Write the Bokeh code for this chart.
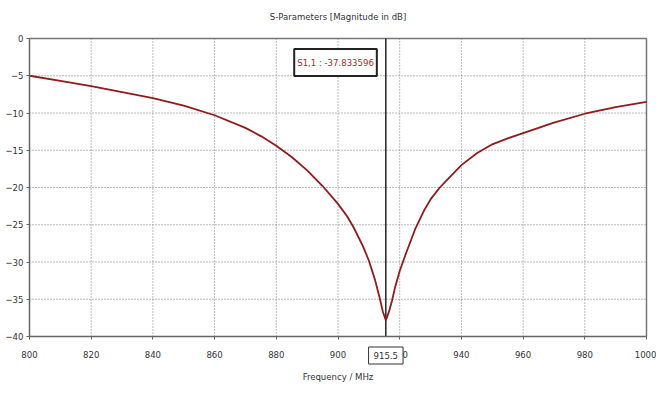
from bokeh.plotting import figure
from bokeh.models import Label, Range1d, FixedTicker
from bokeh.embed import file_html
from bokeh.resources import INLINE

# ---- data ----
freq_mhz = [800, 810, 820, 830, 840, 850, 860, 870, 875, 880, 885, 890, 895, 900, 903,
            905, 908, 910, 912, 913.5, 914.5, 915.5, 916.5, 917.5, 918.5, 920, 922, 925,
            928, 930, 933, 936, 940, 945, 950, 955, 960, 970, 980, 990, 1000]
s11_db = [-5.0, -5.7, -6.4, -7.2, -8.0, -9.0, -10.3, -12.0, -13.1, -14.4, -15.9, -17.7,
          -19.8, -22.2, -23.9, -25.3, -27.8, -29.8, -32.4, -34.8, -36.6, -37.83, -36.7,
          -35.2, -33.4, -31.2, -28.9, -25.6, -23.0, -21.6, -20.0, -18.7, -17.0, -15.4,
          -14.2, -13.4, -12.7, -11.3, -10.1, -9.2, -8.5]
x_ticks = [800, 820, 840, 860, 880, 900, 920, 940, 960, 980, 1000]
y_ticks = [0, -5, -10, -15, -20, -25, -30, -35, -40]
marker_freq = 915.5
marker_value = -37.833596
title_text = "S-Parameters [Magnitude in dB]"
x_label = "Frequency / MHz"
series_name = "S1,1"

FONT = "'DejaVu Sans Condensed', 'Liberation Sans', sans-serif"
TXT = "#333333"
FRAME = "#777777"
GRID = "#777777"

X0, X1 = x_ticks[0], x_ticks[-1]
Y0, Y1 = y_ticks[-1], y_ticks[0]

# ---- layout (pixels) ----
W, H = 656, 384
PL, PR, PT, PB = 29, 646, 38, 336          # plotting box inside the canvas
px_x = (PR - PL) / (X1 - X0)
px_y = (PB - PT) / (Y1 - Y0)
x_range = Range1d(X0 - PL / px_x, X1 + (W - PR) / px_x)
y_range = Range1d(Y0 - (H - PB) / px_y, Y1 + PT / px_y)

p = figure(width=W, height=H, output_backend="svg", toolbar_location=None, title=None,
           x_range=x_range, y_range=y_range,
           min_border_left=0, min_border_right=0, min_border_top=0, min_border_bottom=0)
p.outline_line_color = None
p.grid.visible = False

# dotted grid drawn between the tick values only
p.segment(x0=x_ticks, y0=[Y0] * len(x_ticks), x1=x_ticks, y1=[Y1] * len(x_ticks),
          line_color=GRID, line_dash="1 2", line_width=1)
p.segment(x0=[X0] * len(y_ticks), y0=y_ticks, x1=[X1] * len(y_ticks), y1=y_ticks,
          line_color=GRID, line_dash="1 2", line_width=1)
# top and right frame border
p.segment(x0=[X0, X1], y0=[Y1, Y0], x1=[X1, X1], y1=[Y1, Y1],
          line_color=FRAME, line_width=1.5)
# marker line
p.segment(x0=[marker_freq], y0=[Y0], x1=[marker_freq], y1=[Y1],
          line_color="#222222", line_width=1.5)

p.line(freq_mhz, s11_db, line_color="#921a1a", line_width=1.8)

p.xaxis.ticker = FixedTicker(ticks=x_ticks)
p.yaxis.ticker = FixedTicker(ticks=y_ticks)
p.xaxis.fixed_location = Y0
p.yaxis.fixed_location = X0
p.xaxis.bounds = (X0, X1)
p.yaxis.bounds = (Y0, Y1)
p.xaxis.axis_label = x_label
for ax in (p.xaxis, p.yaxis):
    ax.major_label_text_font = FONT
    ax.major_label_text_font_size = "9.5px"
    ax.major_label_text_color = TXT
    ax.axis_label_text_font = FONT
    ax.axis_label_text_font_size = "9.5px"
    ax.axis_label_text_font_style = "normal"
    ax.axis_label_text_color = TXT
    ax.axis_line_color = "#666666"
    ax.axis_line_width = 1.5
    ax.major_tick_line_color = "#666666"
    ax.major_tick_out = 3
    ax.major_tick_in = 0
    ax.minor_tick_line_color = None
p.xaxis.major_label_standoff = 11
p.xaxis.axis_label_standoff = 10
p.yaxis.major_label_standoff = 3

# title
p.add_layout(Label(x=(X0 + X1) / 2, y=Y1 + 22 / px_y, text=title_text, text_align="center",
                   text_baseline="middle", text_font=FONT, text_font_size="9.5px",
                   text_color=TXT, level="overlay"))

# marker readout box
p.add_layout(Label(x=marker_freq, y=Y1 - 24 / px_y, x_offset=-9,
                   text=f"{series_name} : {marker_value:.6f}",
                   text_align="right", text_baseline="middle", text_font=FONT,
                   text_font_size="9.5px", text_color="#a52a2a",
                   background_fill_color="white", border_line_color="#222222",
                   border_line_width=2, padding=(3, 8), level="overlay"))

# boxed marker frequency under the axis
p.add_layout(Label(x=marker_freq, y=Y0 - 19 / px_y, text=f"{marker_freq}",
                   text_align="center", text_baseline="middle", text_font=FONT,
                   text_font_size="9.5px", text_color=TXT, background_fill_color="white",
                   border_line_color="#333333", border_line_width=1, padding=(5, 5),
                   level="overlay"))

open("out.html", "w").write(file_html(p, INLINE))
